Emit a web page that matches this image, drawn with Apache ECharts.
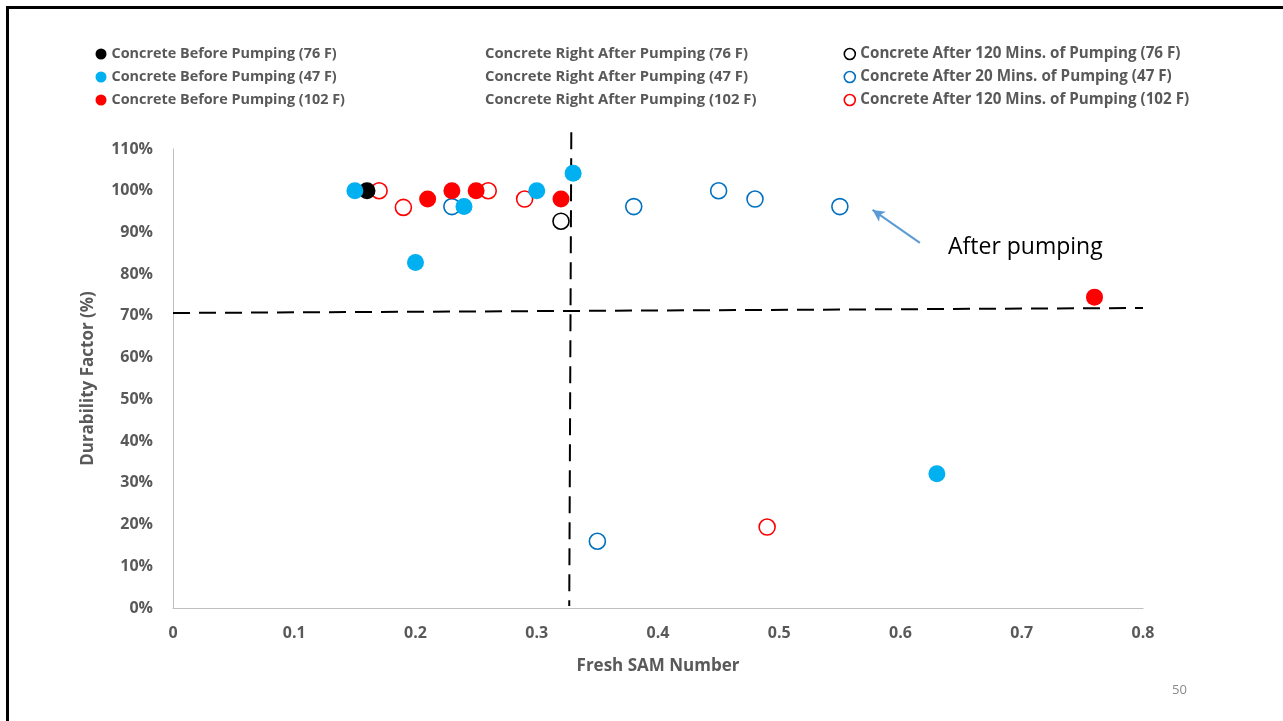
<!DOCTYPE html>
<html>
<head>
<meta charset="utf-8">
<script src="https://cdn.jsdelivr.net/npm/echarts@6/dist/echarts.min.js"></script>
<style>
html,body{margin:0;padding:0;background:#fff;}
#frame{position:absolute;left:6px;top:6px;width:1300px;height:730px;border-left:3px solid #000;border-top:3px solid #000;box-sizing:border-box;}
#chart{position:absolute;left:0;top:0;width:1283px;height:721px;}
</style>
</head>
<body>
<div id="frame"></div>
<div id="chart"></div>
<script>
// ---- data ----
const beforeNames = ['Concrete Before Pumping (76 F)', 'Concrete Before Pumping (47 F)', 'Concrete Before Pumping (102 F)'];
const rightAfterNames = ['Concrete Right After Pumping (76 F)', 'Concrete Right After Pumping (47 F)', 'Concrete Right After Pumping (102 F)'];
const afterNames = ['Concrete After 120 Mins. of Pumping (76 F)', 'Concrete After 20 Mins. of Pumping (47 F)', 'Concrete After 120 Mins. of Pumping (102 F)'];

const before76 = [[0.16, 100]];
const before47 = [[0.15, 100], [0.20, 82.8], [0.24, 96.2], [0.30, 100], [0.33, 104.2], [0.63, 32.2]];
const before102 = [[0.21, 98], [0.23, 100], [0.25, 100], [0.32, 98], [0.76, 74.5]];
const after76 = [[0.32, 92.7]];
const after47 = [[0.23, 96.2], [0.35, 16], [0.38, 96.2], [0.45, 100], [0.48, 98], [0.55, 96.2]];
const after102 = [[0.17, 100], [0.19, 96], [0.26, 100], [0.29, 98], [0.49, 19.4]];

const hLine = [[0, 70.7], [0.8, 71.9]];
const vLine = [[0.3285, 114], [0.3268, 0.5]];
const arrowLine = [[0.616, 87.5], [0.577, 95.4]];

const xTicks = [0, 0.1, 0.2, 0.3, 0.4, 0.5, 0.6, 0.7, 0.8];
const yTicks = [0, 10, 20, 30, 40, 50, 60, 70, 80, 90, 100, 110];

// ---- chart ----
const chart = echarts.init(document.getElementById('chart'));
const FONT = '"Open Sans"';
const GREY = '#595959';
const filledColors = ['#000000', '#00B0F0', '#FF0000'];
const hollowColors = ['#000000', '#0070C0', '#FF0000'];

function filled(name, data, color) {
  return { name, type: 'scatter', data, symbol: 'circle', symbolSize: 17, z: 4,
    itemStyle: { color: color, opacity: 1 }, emphasis: { disabled: true } };
}
function hollow(name, data, color) {
  return { name, type: 'scatter', data, symbol: 'circle', symbolSize: 16, z: 3,
    itemStyle: { color: 'rgba(255,255,255,0)', borderColor: color, borderWidth: 1.6, opacity: 1 }, emphasis: { disabled: true } };
}
function legendCol(left, names, hollowIcons, colors, size) {
  return {
    orient: 'vertical', left: left, top: 41, itemWidth: 11, itemHeight: 11, itemGap: 7,
    selectedMode: false,
    data: names.map((n, i) => ({ name: n, icon: 'circle',
      itemStyle: hollowIcons ? { color: '#fff', borderColor: colors[i], borderWidth: 1.6 } : (colors ? { color: colors[i] } : { color: 'rgba(0,0,0,0)' }) })),
    textStyle: { color: GREY, fontFamily: FONT, fontWeight: 'bold', fontSize: size, lineHeight: 16 }
  };
}

const option = {
  animation: false,
  backgroundColor: 'transparent',
  grid: { left: 173, right: 140, top: 149, bottom: 113, containLabel: false },
  legend: [
    legendCol(90.5, beforeNames, false, filledColors, 14.4),
    legendCol(464, rightAfterNames, false, null, 14.8),
    legendCol(838.5, afterNames, true, hollowColors, 15.2)
  ],
  xAxis: {
    type: 'value', min: 0, max: 0.8, interval: 0.1,
    name: 'Fresh SAM Number', nameLocation: 'middle', nameGap: 50,
    nameTextStyle: { color: GREY, fontFamily: FONT, fontWeight: 'bold', fontSize: 17 },
    axisLine: { show: true, lineStyle: { color: '#BFBFBF', width: 1 } },
    axisTick: { show: false },
    splitLine: { show: false },
    axisLabel: { color: GREY, fontFamily: FONT, fontWeight: 'bold', fontSize: 16, margin: 17,
      formatter: v => { const t = xTicks.find(k => Math.abs(k - v) < 1e-6); return t === 0 ? '0' : String(t); } }
  },
  yAxis: {
    type: 'value', min: 0, max: 110, interval: 10,
    name: 'Durability Factor (%)', nameLocation: 'middle', nameGap: 76, nameRotate: 90,
    nameTextStyle: { color: GREY, fontFamily: FONT, fontWeight: 'bold', fontSize: 17 },
    axisLine: { show: true, lineStyle: { color: '#BFBFBF', width: 1 } },
    axisTick: { show: false },
    splitLine: { show: false },
    axisLabel: { color: GREY, fontFamily: FONT, fontWeight: 'bold', fontSize: 16, margin: 20,
      formatter: v => { const t = yTicks.find(k => Math.abs(k - v) < 1e-6); return t + '%'; } }
  },
  series: [
    { type: 'line', data: hLine, symbol: 'none', silent: true, z: 2, clip: false,
      lineStyle: { color: '#000', width: 2, type: [17, 9] } },
    { type: 'line', data: vLine, symbol: 'none', silent: true, z: 2, clip: false,
      lineStyle: { color: '#000', width: 2, type: [17, 9] } },
    { type: 'line', data: [], symbol: 'none', silent: true,
      markLine: { silent: true, symbol: ['none', 'arrow'], symbolSize: [9, 12], label: { show: false },
        lineStyle: { color: '#5B9BD5', width: 2, type: 'solid' },
        data: [[{ coord: arrowLine[0] }, { coord: arrowLine[1] }]] } },
    filled(beforeNames[0], before76, filledColors[0]),
    filled(beforeNames[1], before47, filledColors[1]),
    filled(beforeNames[2], before102, filledColors[2]),
    { name: rightAfterNames[0], type: 'scatter', data: [], itemStyle: { color: 'rgba(0,0,0,0)' } },
    { name: rightAfterNames[1], type: 'scatter', data: [], itemStyle: { color: 'rgba(0,0,0,0)' } },
    { name: rightAfterNames[2], type: 'scatter', data: [], itemStyle: { color: 'rgba(0,0,0,0)' } },
    hollow(afterNames[0], after76, hollowColors[0]),
    hollow(afterNames[1], after47, hollowColors[1]),
    hollow(afterNames[2], after102, hollowColors[2])
  ],
  graphic: [
    { type: 'text', left: 948, top: 236, style: { text: 'After pumping', fill: '#000', font: '23px "Open Sans"' } },
    { type: 'text', left: 1172, top: 684, style: { text: '50', fill: '#898989', font: '13px "Open Sans"' } }
  ]
};
chart.setOption(option);
</script>
</body>
</html>
